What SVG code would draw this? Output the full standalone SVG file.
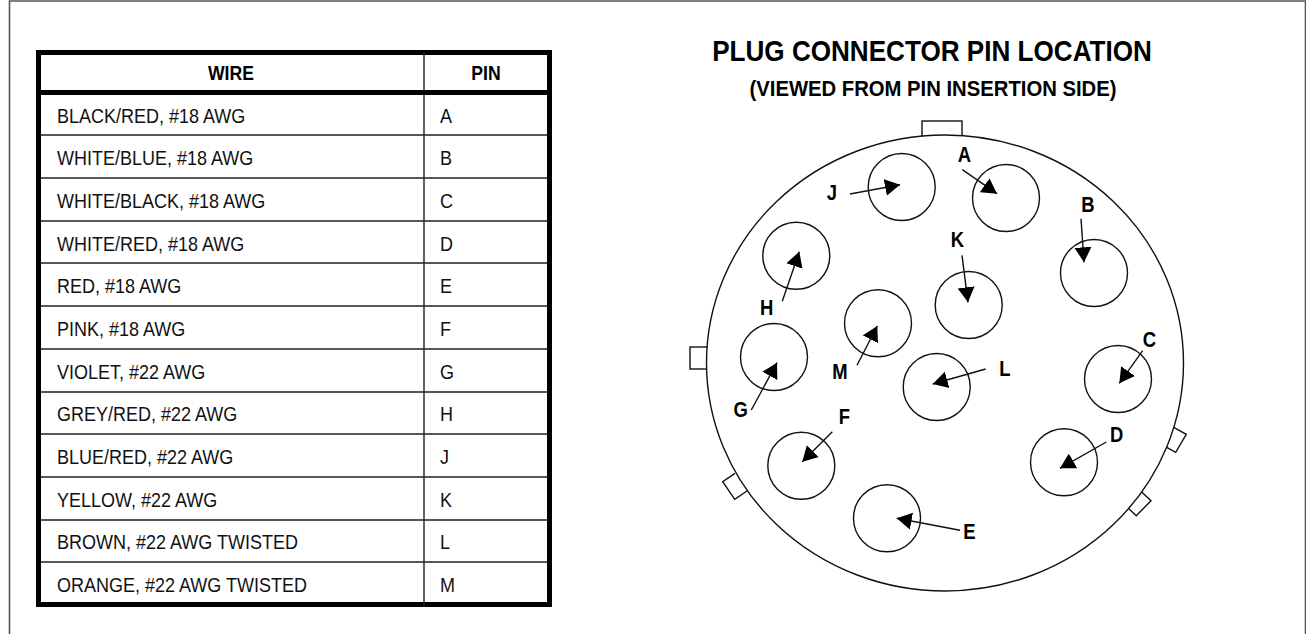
<svg xmlns="http://www.w3.org/2000/svg" width="1306" height="634" viewBox="0 0 1306 634">
<style>
text{font-family:"Liberation Sans",Arial,sans-serif;fill:#000}
.cell{font-size:20px;fill:#111}
.head{font-size:20.5px;font-weight:700;text-anchor:middle}
.lab{font-size:22.5px;font-weight:700;text-anchor:middle}
.pin{fill:#fff;stroke:#111;stroke-width:1.4}
.tab{fill:#fff;stroke:#111;stroke-width:1.4}
.arr{stroke:#111;stroke-width:1.4;fill:none;marker-end:url(#ah)}
.rule{stroke:#222;stroke-width:1.4}
</style>
<defs><marker id="ah" markerUnits="userSpaceOnUse" markerWidth="16" markerHeight="18" refX="15" refY="9" orient="auto"><path d="M0,0.5 L15,9 L0,17.5 Z" fill="#000"/></marker></defs>
<rect width="1306" height="634" fill="#fff"/>
<path d="M9.5,634 V1 H1305.5 V634" fill="none" stroke="#555" stroke-width="1.6"/>
<g id="table">
<rect x="38.5" y="52.5" width="511" height="552" fill="#fff" stroke="#000" stroke-width="5"/>
<path class="rule" d="M424,52V607"/>
<path d="M36,92.5H552" stroke="#000" stroke-width="5"/>
<path class="rule" d="M41,135H547M41,178H547M41,221H547M41,263H547M41,306H547M41,349H547M41,392H547M41,434H547M41,477H547M41,520H547M41,562H547"/>
<text class="head" transform="translate(231 80) scale(.86 1)">WIRE</text>
<text class="head" transform="translate(486 80) scale(.86 1)">PIN</text>
<g transform="translate(57 0) scale(.9 1)">
<text class="cell" y="123">BLACK/RED, #18 AWG</text>
<text class="cell" y="165.5">WHITE/BLUE, #18 AWG</text>
<text class="cell" y="208">WHITE/BLACK, #18 AWG</text>
<text class="cell" y="250.7">WHITE/RED, #18 AWG</text>
<text class="cell" y="293.3">RED, #18 AWG</text>
<text class="cell" y="336">PINK, #18 AWG</text>
<text class="cell" y="378.7">VIOLET, #22 AWG</text>
<text class="cell" y="421.4">GREY/RED, #22 AWG</text>
<text class="cell" y="464">BLUE/RED, #22 AWG</text>
<text class="cell" y="507">YELLOW, #22 AWG</text>
<text class="cell" y="549.5">BROWN, #22 AWG TWISTED</text>
<text class="cell" y="592">ORANGE, #22 AWG TWISTED</text>
</g>
<g transform="translate(440 0) scale(.9 1)">
<text class="cell" y="123">A</text>
<text class="cell" y="165.5">B</text>
<text class="cell" y="208">C</text>
<text class="cell" y="250.7">D</text>
<text class="cell" y="293.3">E</text>
<text class="cell" y="336">F</text>
<text class="cell" y="378.7">G</text>
<text class="cell" y="421.4">H</text>
<text class="cell" y="464">J</text>
<text class="cell" y="507">K</text>
<text class="cell" y="549.5">L</text>
<text class="cell" y="592">M</text>
</g>
</g>
<text transform="translate(932 60.7) scale(.87 1)" text-anchor="middle" font-size="30" font-weight="700">PLUG CONNECTOR PIN LOCATION</text>
<text transform="translate(933 95.7) scale(.943 1)" text-anchor="middle" font-size="21.5" font-weight="700">(VIEWED FROM PIN INSERTION SIDE)</text>
<g id="shell">
<rect class="tab" x="922" y="121" width="40" height="16"/>
<rect class="tab" x="690" y="347" width="18" height="22"/>
<path class="tab" d="M747,491L734.7,499.3L722.7,481.7L735,473.3"/>
<path class="tab" d="M1173.7,427.3L1186.3,434.3L1175.7,452.3L1166.7,447.3"/>
<path class="tab" d="M1141.7,492L1151,500.7L1136.3,515.7L1128.3,508.3"/>
<ellipse cx="945" cy="363" rx="238.5" ry="228" fill="#fff" stroke="#111" stroke-width="1.4"/>
</g>
<g id="pin-J"><circle class="pin" cx="901.7" cy="187" r="33.5"/><text class="lab" transform="translate(832 200) scale(.82 1)">J</text></g>
<g id="pin-A"><circle class="pin" cx="1006" cy="198" r="33.5"/><text class="lab" transform="translate(964.3 162) scale(.82 1)">A</text></g>
<g id="pin-K"><circle class="pin" cx="968.7" cy="305" r="33.5"/><text class="lab" transform="translate(957.3 246.5) scale(.82 1)">K</text></g>
<g id="pin-B"><circle class="pin" cx="1094" cy="273" r="33.5"/><text class="lab" transform="translate(1088 212.3) scale(.82 1)">B</text></g>
<g id="pin-H"><circle class="pin" cx="796.3" cy="255.7" r="33.5"/><text class="lab" transform="translate(766.7 314.7) scale(.82 1)">H</text></g>
<g id="pin-M"><circle class="pin" cx="878" cy="323.3" r="33.5"/><text class="lab" transform="translate(840 379.3) scale(.82 1)">M</text></g>
<g id="pin-G"><circle class="pin" cx="774" cy="357" r="33.5"/><text class="lab" transform="translate(740.7 416.7) scale(.82 1)">G</text></g>
<g id="pin-L"><circle class="pin" cx="936.7" cy="387" r="33.5"/><text class="lab" transform="translate(1005 376) scale(.82 1)">L</text></g>
<g id="pin-C"><circle class="pin" cx="1118" cy="379" r="33.5"/><text class="lab" transform="translate(1149.3 346.7) scale(.82 1)">C</text></g>
<g id="pin-D"><circle class="pin" cx="1064" cy="462.3" r="33.5"/><text class="lab" transform="translate(1116.7 442) scale(.82 1)">D</text></g>
<g id="pin-F"><circle class="pin" cx="801.3" cy="465.7" r="33.5"/><text class="lab" transform="translate(844.3 424.3) scale(.82 1)">F</text></g>
<g id="pin-E"><circle class="pin" cx="887" cy="518.3" r="33.5"/><text class="lab" transform="translate(969.3 539) scale(.82 1)">E</text></g>
<g id="connectors">
<line class="arr" x1="850" y1="194" x2="900" y2="184.7"/>
<line class="arr" x1="962.3" y1="169.7" x2="997" y2="193.7"/>
<line class="arr" x1="962" y1="255.3" x2="968" y2="302.3"/>
<line class="arr" x1="1081" y1="218.7" x2="1084" y2="262.3"/>
<line class="arr" x1="782.3" y1="301.3" x2="799.3" y2="251.7"/>
<line class="arr" x1="857" y1="365.3" x2="877.3" y2="326"/>
<line class="arr" x1="751.3" y1="410" x2="777" y2="362.7"/>
<line class="arr" x1="832.3" y1="431.7" x2="802.3" y2="461.7"/>
<line class="arr" x1="960" y1="530.3" x2="896.7" y2="518.3"/>
<line class="arr" x1="985.7" y1="369" x2="932.7" y2="384"/>
<line class="arr" x1="1142.7" y1="350.7" x2="1119.3" y2="383.3"/>
<line class="arr" x1="1106.3" y1="442" x2="1060" y2="468.3"/>
</g>
</svg>
